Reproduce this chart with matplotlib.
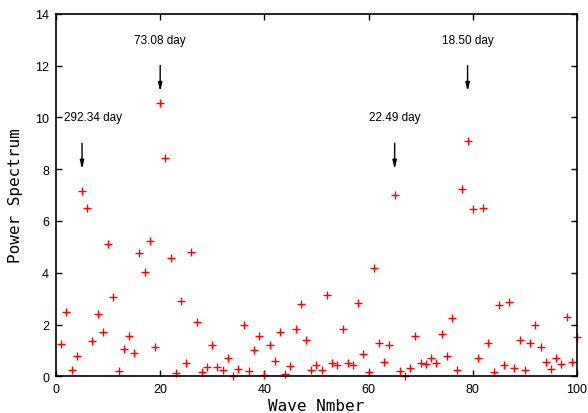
import matplotlib
matplotlib.use('Agg')
import matplotlib.pyplot as plt

# wave numbers 1..100 and the power
wave = list(range(1, 101))
power = [1.25, 2.47, 0.26, 0.78, 7.14, 6.49, 1.35, 2.42, 1.70, 5.10,
         3.07, 0.20, 1.05, 1.56, 0.89, 4.75, 4.01, 5.22, 1.14, 10.55,
         8.42, 4.58, 0.12, 2.91, 0.53, 4.81, 2.11, 0.17, 0.37, 1.20,
         0.35, 0.23, 0.71, 0.01, 0.27, 1.99, 0.22, 1.03, 1.55, 0.04,
         1.20, 0.59, 1.70, 0.09, 0.41, 1.83, 2.79, 1.41, 0.23, 0.45,
         0.25, 3.13, 0.50, 0.43, 1.82, 0.52, 0.44, 2.83, 0.88, 0.16,
         4.17, 1.28, 0.56, 1.21, 7.00, 0.21, 0.00, 0.32, 1.55, 0.50,
         0.48, 0.70, 0.53, 1.65, 0.78, 2.25, 0.25, 7.22, 9.07, 6.45,
         0.71, 6.50, 1.30, 0.18, 2.75, 0.44, 2.87, 0.34, 1.40, 0.26,
         1.28, 1.99, 1.15, 0.54, 0.27, 0.72, 0.48, 2.30, 0.54, 1.50]

# peaks: wave number, label, arrow tail, arrow head, label x
peak_x = [5, 20, 65, 79]
peak_labels = ['292.34 day', '73.08 day', '22.49 day', '18.50 day']
arrow_top = [9.0, 12.0, 9.0, 12.0]
arrow_tip = [8.0, 11.0, 8.0, 11.0]
label_x = [7.1, 20, 65, 79]

fig = plt.figure(figsize=(5.88, 4.14), dpi=100)
ax = fig.add_axes([0.0952, 0.0886, 0.8861, 0.8759])

ax.plot(wave, power, 'r+', markersize=5.5, mew=1.0, clip_on=False)

for x, lab, t, h, lx in zip(peak_x, peak_labels, arrow_top, arrow_tip, label_x):
    ax.annotate('', xy=(x, h), xytext=(x, t),
                arrowprops=dict(arrowstyle='-|>,head_width=0.12,head_length=0.5',
                                color='black', lw=1.0, shrinkA=0, shrinkB=0))
    ax.text(lx, t + 1.0, lab, ha='center', va='center',
            family='Liberation Sans', fontsize=8.5)

ax.set_xlim(0, 100)
ax.set_ylim(0, 14)
ax.set_xticks(range(0, 101, 20))
ax.set_yticks(range(0, 15, 2))
ax.tick_params(direction='in', length=4, width=1, top=True, right=True,
               labelsize=9, pad=5)
for lab in ax.get_xticklabels() + ax.get_yticklabels():
    lab.set_family('Liberation Sans')
for s in ax.spines.values():
    s.set_linewidth(1.2)

ax.set_xlabel('Wave Nmber', family='DejaVu Sans Mono', fontsize=11.5, labelpad=2)
ax.set_ylabel('Power Spectrum', family='DejaVu Sans Mono', fontsize=11.5, labelpad=9)

fig.savefig('out.png', dpi=100)
